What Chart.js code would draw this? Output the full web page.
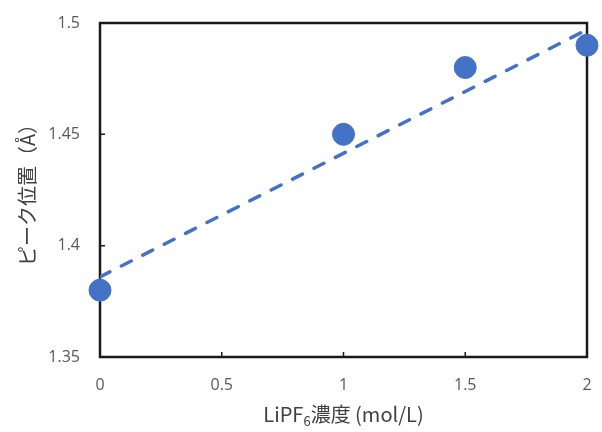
<!DOCTYPE html>
<html>
<head>
<meta charset="utf-8">
<script src="https://cdn.jsdelivr.net/npm/chart.js@4/dist/chart.umd.min.js"></script>
<style>
html,body{margin:0;padding:0;background:#fff;}
#wrap{width:602px;height:432px;}
</style>
</head>
<body>
<div id="wrap"><canvas id="c" width="602" height="432"></canvas></div>
<script>
const concentration = [0, 1, 1.5, 2];
const peakPosition = [1.38, 1.45, 1.48, 1.49];
const trendX = [0, 2];
const trendY = [1.386, 1.497];
const xTicks = [0, 0.5, 1, 1.5, 2];
const xTickLabels = ['0', '0.5', '1', '1.5', '2'];
const yTicks = [1.35, 1.4, 1.45, 1.5];
const yTickLabels = ['1.35', '1.4', '1.45', '1.5'];
const xTitleParts = ['LiPF', '6', '濃度 (mol/L)'];
const yTitle = 'ピーク位置（Å）';

const BLUE = '#4472C4';
const TICK_FONT = '"Open Sans", "Noto Sans", sans-serif';
const CJK_FONT = '"Noto Sans CJK JP", "Open Sans", sans-serif';

const framePlugin = {
  id: 'frame',
  beforeDatasetsDraw(chart) {
    const {ctx, chartArea: a, scales} = chart;
    ctx.save();
    ctx.strokeStyle = '#1a1a1a';
    ctx.lineWidth = 2.5;
    ctx.strokeRect(a.left, a.top, a.right - a.left, a.bottom - a.top);
    ctx.lineWidth = 1.5;
    ctx.beginPath();
    xTicks.forEach(v => {
      const px = scales.x.getPixelForValue(v);
      ctx.moveTo(px, a.bottom); ctx.lineTo(px, a.bottom - 5);
    });
    yTicks.forEach(v => {
      const py = scales.y.getPixelForValue(v);
      ctx.moveTo(a.left, py); ctx.lineTo(a.left + 5, py);
    });
    ctx.stroke();
    ctx.restore();
  },
  afterDraw(chart) {
    const {ctx, chartArea: a} = chart;
    ctx.save();
    ctx.fillStyle = '#404040';
    const big = '20px ' + CJK_FONT, small = '13px ' + CJK_FONT;
    ctx.font = big;
    const w0 = ctx.measureText(xTitleParts[0]).width;
    const w2 = ctx.measureText(xTitleParts[2]).width;
    ctx.font = small;
    const w1 = ctx.measureText(xTitleParts[1]).width;
    const total = w0 + w1 + w2;
    let x = (a.left + a.right) / 2 - total / 2;
    const base = 422;
    ctx.textBaseline = 'alphabetic';
    ctx.textAlign = 'left';
    ctx.font = big; ctx.fillText(xTitleParts[0], x, base); x += w0;
    ctx.font = small; ctx.fillText(xTitleParts[1], x, base + 4); x += w1;
    ctx.font = big; ctx.fillText(xTitleParts[2], x, base);
    ctx.translate(27, (a.top + a.bottom) / 2);
    ctx.rotate(-Math.PI / 2);
    ctx.font = '20px ' + CJK_FONT;
    ctx.textAlign = 'center';
    ctx.textBaseline = 'middle';
    ctx.fillText(yTitle, 0, 0);
    ctx.restore();
  }
};

new Chart(document.getElementById('c'), {
  type: 'scatter',
  data: {
    datasets: [
      {
        type: 'line',
        data: trendX.map((v, i) => ({x: v, y: trendY[i]})),
        borderColor: BLUE,
        borderWidth: 3.5,
        borderDash: [11, 13],
        borderCapStyle: 'round',
        pointRadius: 0,
        fill: false,
        order: 2
      },
      {
        data: concentration.map((v, i) => ({x: v, y: peakPosition[i]})),
        backgroundColor: BLUE,
        borderColor: BLUE,
        pointRadius: 11,
        pointHoverRadius: 11,
        clip: false,
        order: 1
      }
    ]
  },
  options: {
    responsive: false,
    animation: false,
    layout: {padding: {top: 23, right: 15, left: 0, bottom: 0}},
    plugins: {legend: {display: false}, tooltip: {enabled: false}},
    scales: {
      x: {
        type: 'linear', min: 0, max: 2,
        afterBuildTicks: s => { s.ticks = xTicks.map(v => ({value: v})); },
        afterFit: s => { s.height = 75; s.paddingLeft = 0; s.paddingRight = 0; },
        grid: {display: false, drawTicks: false},
        border: {display: false},
        ticks: {padding: 19, color: '#595959', font: {family: TICK_FONT, size: 16},
          callback: (v, i) => xTickLabels[i]}
      },
      y: {
        type: 'linear', min: 1.35, max: 1.5,
        afterBuildTicks: s => { s.ticks = yTicks.map(v => ({value: v})); },
        afterFit: s => { s.width = 100; s.paddingTop = 0; s.paddingBottom = 0; },
        grid: {display: false, drawTicks: false},
        border: {display: false},
        ticks: {padding: 20, color: '#595959', font: {family: TICK_FONT, size: 16},
          callback: (v, i) => yTickLabels[i]}
      }
    }
  },
  plugins: [framePlugin]
});
</script>
</body>
</html>
